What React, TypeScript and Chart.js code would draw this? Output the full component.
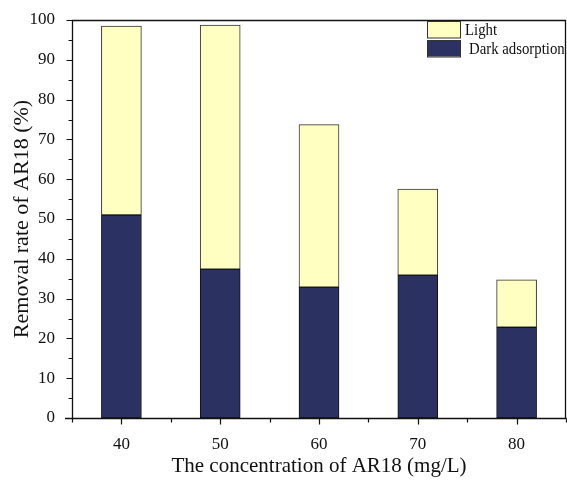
import React, { useEffect, useRef } from 'react';
import { Chart, registerables } from 'chart.js';

Chart.register(...registerables);

const concentrations = [40, 50, 60, 70, 80];
const darkAdsorption = [51.0, 37.4, 32.9, 35.9, 22.8];
const lightRemoval = [47.5, 61.3, 40.8, 21.6, 11.9];
const xTickLabels = ['40', '50', '60', '70', '80'];
const yTickLabels = ['0', '10', '20', '30', '40', '50', '60', '70', '80', '90', '100'];
const seriesNames = ['Dark adsorption', 'Light'];

const SERIF = "'Liberation Serif', 'Times New Roman', serif";
const INK = '#111111';
const DARK = '#2b3160';
const LIGHT = '#ffffc2';

const framePlugin = {
  id: 'frameTicks',
  afterDraw(chart: any) {
    const { ctx, chartArea } = chart;
    const { left, right, top, bottom } = chartArea;
    const xs = chart.scales.x;
    const ys = chart.scales.y;
    ctx.save();
    ctx.strokeStyle = INK;
    ctx.lineWidth = 1.3;
    ctx.beginPath();
    ctx.moveTo(left - 7, bottom + 0.5);
    ctx.lineTo(right + 0.5, bottom + 0.5);
    ctx.moveTo(left + 0.5, bottom + 0.5);
    ctx.lineTo(left + 0.5, top + 0.5);
    ctx.lineTo(right - 0.5, top + 0.5);
    ctx.lineTo(right - 0.5, bottom + 0.5);
    ctx.stroke();
    ctx.lineWidth = 1.2;
    ctx.beginPath();
    for (let v = 0; v <= 100; v += 5) {
      const y = Math.round(ys.getPixelForValue(v)) + 0.5;
      const len = v % 10 === 0 ? 6 : 4;
      ctx.moveTo(left + 0.5, y);
      ctx.lineTo(left + 0.5 - len, y);
    }
    for (let v = 35; v <= 85; v += 5) {
      const x = Math.round(xs.getPixelForValue(v)) + 0.5;
      const len = v % 10 === 0 ? 6 : 4;
      ctx.moveTo(x, bottom + 0.5);
      ctx.lineTo(x, bottom + 0.5 + len);
    }
    ctx.stroke();
    ctx.restore();
  },
};

const legendPlugin = {
  id: 'customLegend',
  afterDraw(chart: any) {
    const { ctx } = chart;
    const items = [...chart.data.datasets].reverse();
    ctx.save();
    ctx.font = `17px ${SERIF}`;
    ctx.textBaseline = 'middle';
    const bx = 427;
    const bw = 33;
    const rows = [21, 40];
    const bh = 16.5;
    items.forEach((ds: any, i: number) => {
      const y = rows[i];
      ctx.fillStyle = ds.backgroundColor;
      ctx.fillRect(bx, y, bw, bh);
      ctx.strokeStyle = '#333';
      ctx.lineWidth = 1;
      ctx.strokeRect(bx + 0.5, y + 0.5, bw, bh);
      ctx.fillStyle = INK;
      const tx = i === 0 ? 465 : 469;
      const w = ctx.measureText(ds.label).width * 0.87;
      ctx.fillText(ds.label, tx, y + bh / 2 + 1, w);
    });
    ctx.restore();
  },
};

export default function App() {
  const canvasRef = useRef<HTMLCanvasElement | null>(null);

  useEffect(() => {
    document.body.style.margin = '0';
    const canvas = canvasRef.current;
    if (!canvas) return;
    const chart = new Chart(canvas, {
      type: 'bar',
      data: {
        datasets: [
          {
            label: seriesNames[0],
            data: concentrations.map((c, i) => ({ x: c, y: darkAdsorption[i] })),
            backgroundColor: DARK,
            borderColor: '#111',
            borderWidth: 1,
            borderSkipped: false,
            barThickness: 40,
            stack: 's',
          },
          {
            label: seriesNames[1],
            data: concentrations.map((c, i) => ({ x: c, y: lightRemoval[i] })),
            backgroundColor: LIGHT,
            borderColor: '#333',
            borderWidth: 1,
            borderSkipped: false,
            barThickness: 40,
            stack: 's',
          },
        ],
      },
      options: {
        responsive: false,
        animation: false,
        devicePixelRatio: 1,
        layout: { padding: { top: 20, right: 1, left: 0, bottom: 0 } },
        plugins: {
          legend: { display: false },
          tooltip: { enabled: false },
        },
        scales: {
          x: {
            type: 'linear',
            stacked: true,
            offset: false,
            min: 35,
            max: 85,
            grid: { display: false, offset: false },
            border: { display: false },
            afterFit: (scale: any) => {
              scale.height = 62;
              scale.paddingLeft = 0;
              scale.paddingRight = 0;
            },
            ticks: {
              stepSize: 5,
              autoSkip: false,
              maxRotation: 0,
              padding: 8,
              color: INK,
              font: { family: SERIF, size: 17 },
              callback: (v: any) => {
                const s = String(v);
                return xTickLabels.includes(s) ? s : '';
              },
            },
            title: {
              display: true,
              text: 'The concentration of AR18 (mg/L)',
              color: INK,
              font: { family: SERIF, size: 21 },
              padding: { top: 0, bottom: 1 },
            },
          },
          y: {
            stacked: true,
            min: 0,
            max: 100,
            grid: { display: false },
            border: { display: false },
            afterFit: (scale: any) => {
              scale.width = 72;
              scale.paddingTop = 0;
              scale.paddingBottom = 0;
            },
            ticks: {
              stepSize: 5,
              autoSkip: false,
              padding: 9,
              color: INK,
              font: { family: SERIF, size: 17 },
              callback: (v: any) => {
                const s = String(v);
                return yTickLabels.includes(s) ? s : '';
              },
            },
            title: {
              display: true,
              text: 'Removal rate of AR18 (%)',
              color: INK,
              font: { family: SERIF, size: 22 },
              padding: { top: 9, bottom: 0 },
            },
          },
        },
      },
      plugins: [framePlugin, legendPlugin],
    } as any);
    return () => chart.destroy();
  }, []);

  return (
    <div style={{ position: 'fixed', left: 0, top: 0, width: 567, height: 480, background: '#fff' }}>
      <canvas ref={canvasRef} width={567} height={480} />
    </div>
  );
}
